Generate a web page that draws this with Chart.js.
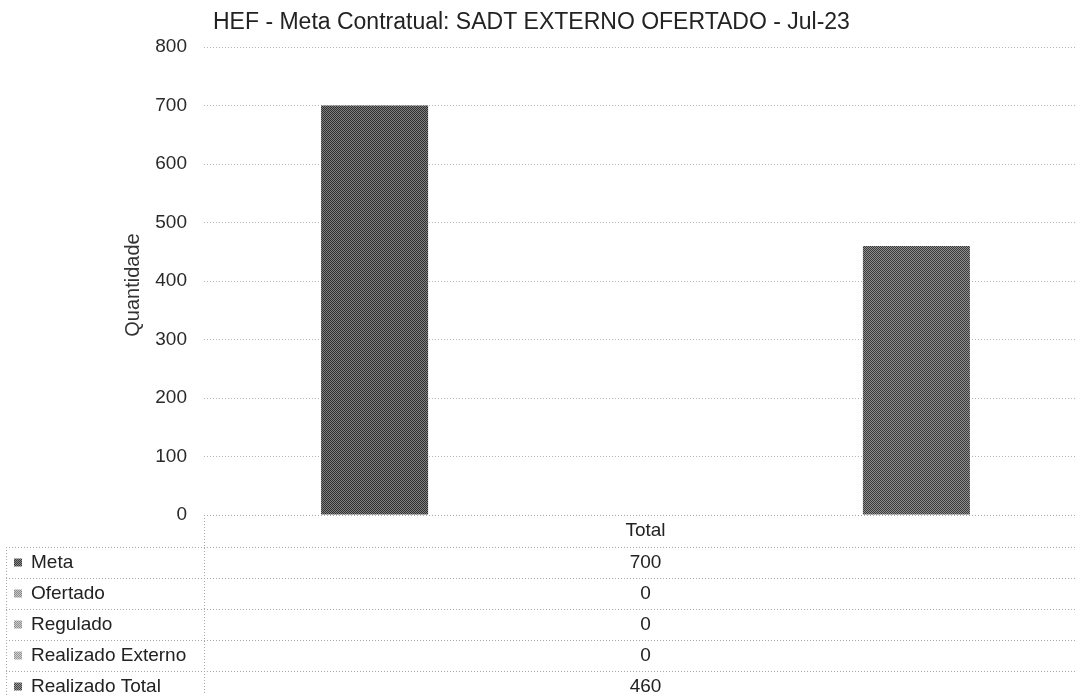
<!DOCTYPE html>
<html>
<head>
<meta charset="utf-8">
<script src="https://cdn.jsdelivr.net/npm/chart.js@4.4.1/dist/chart.umd.min.js"></script>
<style>
    html, body { margin: 0; padding: 0; background: #fff; overflow: hidden; }
    #wrap { width: 1087px; height: 695px; }
</style>
</head>
<body>
<div id="wrap"><canvas id="myChart" width="1087" height="695"></canvas></div>
<script>
// Chart data
const categories = ["Total"];
const seriesNames = ["Meta", "Ofertado", "Regulado", "Realizado Externo", "Realizado Total"];
const meta = [700];
const ofertado = [0];
const regulado = [0];
const realizadoExterno = [0];
const realizadoTotal = [460];
const yTicks = [0, 100, 200, 300, 400, 500, 600, 700, 800];

const titleText = "HEF - Meta Contratual: SADT EXTERNO OFERTADO - Jul-23";
const yTitle = "Quantidade";
const FONT = "'Liberation Sans', Arial, sans-serif";

// Checkered fill like the scanned print
function makePattern(dark, light) {
    const c = document.createElement("canvas");
    c.width = 2;
    c.height = 2;
    const g = c.getContext("2d");
    g.fillStyle = light;
    g.fillRect(0, 0, 2, 2);
    g.fillStyle = dark;
    g.fillRect(0, 0, 1, 1);
    g.fillRect(1, 1, 1, 1);
    return g.createPattern(c, "repeat");
}

const fills = [
    makePattern("#303030", "#808080"),
    makePattern("#8a8a8a", "#c8c8c8"),
    makePattern("#909090", "#cccccc"),
    makePattern("#959595", "#d0d0d0"),
    makePattern("#3a3a3a", "#8e8e8e")
];
const keyFills = [
    makePattern("#3a3a3a", "#8a8a8a"),
    makePattern("#8a8a8a", "#c8c8c8"),
    makePattern("#909090", "#cccccc"),
    makePattern("#959595", "#d0d0d0"),
    makePattern("#444", "#999")
];

const seriesValues = [meta, ofertado, regulado, realizadoExterno, realizadoTotal];

// Title, axis title and the data table under the plot
const tablePlugin = {
    id: "dataTable",
    afterDraw(chart) {
        const ctx = chart.ctx;
        const area = chart.chartArea;
        const xScale = chart.scales.x;
        const colX = xScale.getPixelForValue(0);
        const right = chart.width;
        const headerH = 32;
        const rowH = 31;
        const top = Math.round(area.bottom);
        const leftEdge = 6;

        ctx.save();
        // Title
        ctx.fillStyle = "#222";
        ctx.font = "23px " + FONT;
        ctx.textAlign = "left";
        ctx.textBaseline = "middle";
        ctx.fillText(titleText, 213, 23);

        // Axis title
        ctx.save();
        ctx.translate(133, 285);
        ctx.rotate(-Math.PI / 2);
        ctx.font = "20px " + FONT;
        ctx.fillStyle = "#333";
        ctx.textAlign = "center";
        ctx.fillText(yTitle, 0, 0);
        ctx.restore();

        // Table lines
        ctx.strokeStyle = "#a8a8a8";
        ctx.lineWidth = 1;
        ctx.setLineDash([1, 2]);
        ctx.beginPath();
        ctx.moveTo(area.left, top + 0.5);
        ctx.lineTo(right, top + 0.5);
        for (let i = 0; i <= seriesNames.length; i++) {
            const y = top + headerH + i * rowH + 0.5;
            ctx.moveTo(leftEdge, y);
            ctx.lineTo(right, y);
        }
        ctx.moveTo(Math.round(area.left) + 0.5, top);
        ctx.lineTo(Math.round(area.left) + 0.5, chart.height);
        ctx.moveTo(leftEdge + 0.5, top + headerH);
        ctx.lineTo(leftEdge + 0.5, chart.height);
        ctx.stroke();
        ctx.setLineDash([]);

        // Header
        ctx.font = "19px " + FONT;
        ctx.fillStyle = "#222";
        ctx.textAlign = "center";
        ctx.fillText(categories[0], colX, top + headerH / 2);

        // Rows
        seriesNames.forEach((name, i) => {
            const cy = top + headerH + i * rowH + rowH / 2;
            ctx.fillStyle = keyFills[i];
            ctx.fillRect(14, cy - 4, 8, 8);
            ctx.fillStyle = "#222";
            ctx.textAlign = "left";
            ctx.fillText(name, 31, cy);
            ctx.textAlign = "center";
            ctx.fillText(String(seriesValues[i][0]), colX, cy);
        });
        ctx.restore();
    }
};

const ctx = document.getElementById("myChart");
const chart_data = {
    labels: categories,
    datasets: seriesNames.map((name, i) => ({
        label: name,
        data: seriesValues[i],
        backgroundColor: fills[i],
        borderWidth: 0,
        categoryPercentage: 0.767,
        barPercentage: 0.79
    }))
};

const config = {
    type: "bar",
    data: chart_data,
    options: {
        responsive: false,
        animation: false,
        layout: {
            padding: { top: 47, bottom: 180, left: 0, right: 0 }
        },
        plugins: {
            legend: { display: false },
            title: { display: false },
            tooltip: { enabled: false }
        },
        scales: {
            x: {
                display: false
            },
            y: {
                min: yTicks[0],
                max: yTicks[yTicks.length - 1],
                afterBuildTicks: (scale) => {
                    scale.ticks = yTicks.map(v => ({ value: v }));
                },
                afterFit: (scale) => {
                    scale.width = 204;
                },
                grid: {
                    color: "#b4b4b4",
                    drawTicks: false
                },
                border: { display: false, dash: [1, 2] },
                ticks: {
                    padding: 17,
                    color: "#2a2a2a",
                    font: { family: FONT, size: 19 }
                }
            }
        }
    },
    plugins: [tablePlugin]
};
const chart = new Chart(ctx, config);
</script>
</body>
</html>
